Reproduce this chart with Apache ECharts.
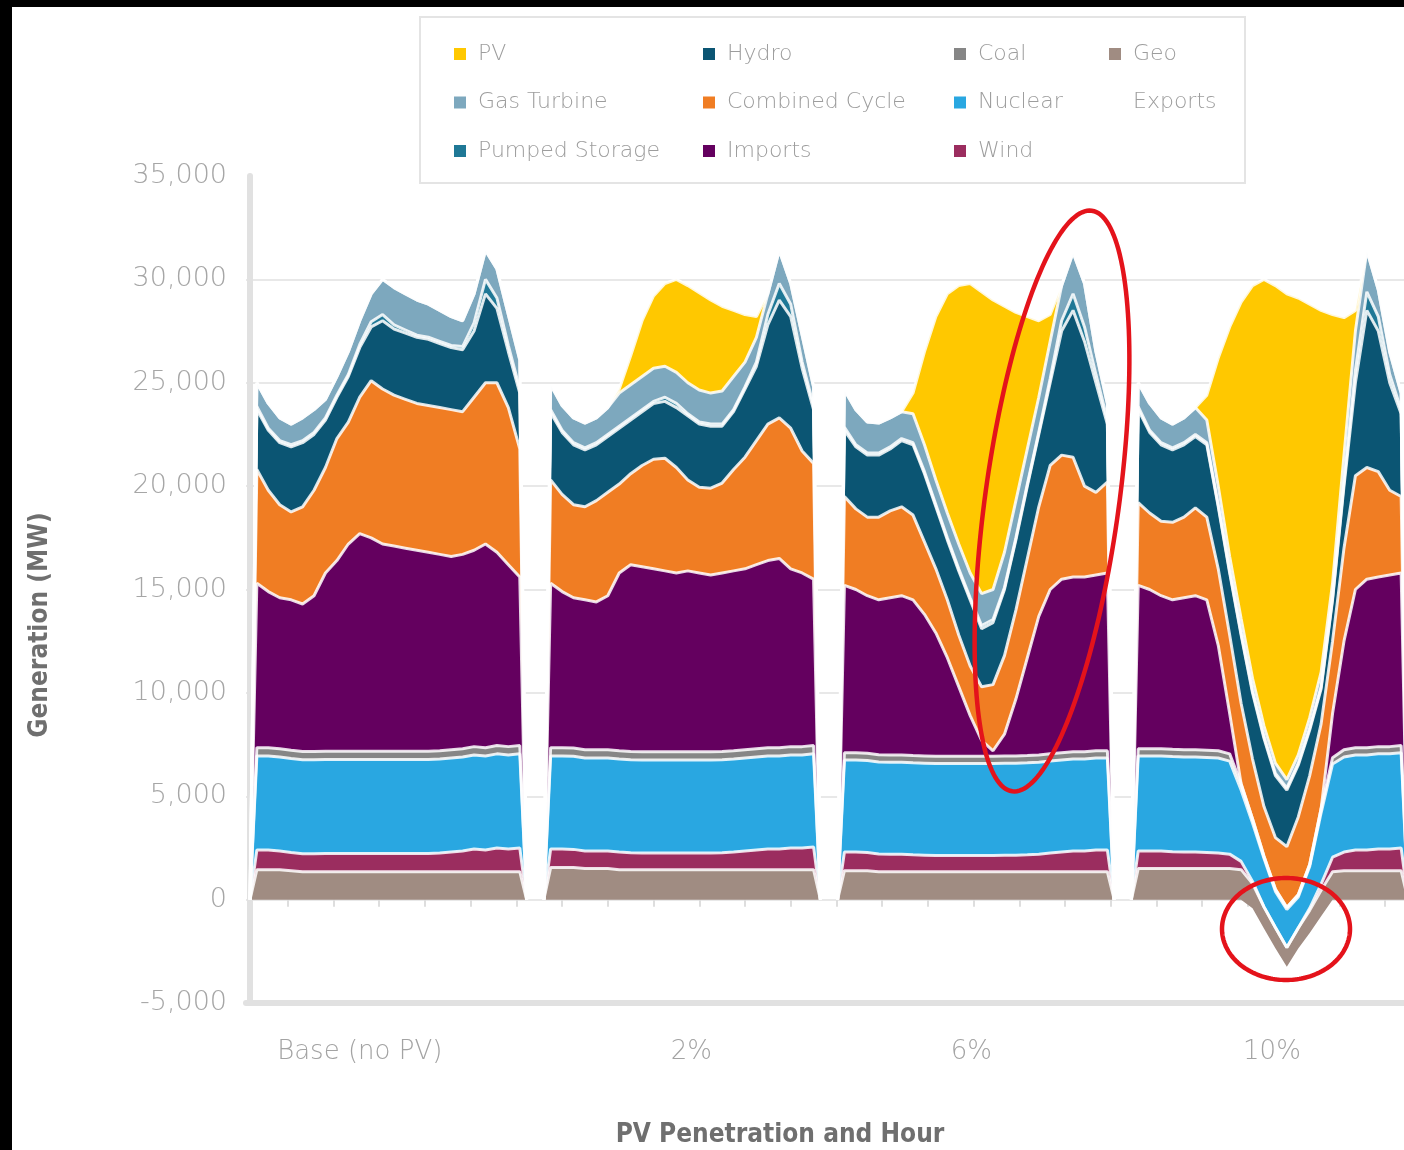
<!DOCTYPE html>
<html>
<head>
<meta charset="utf-8">
<title>Generation (MW) by PV Penetration and Hour</title>
<script src="https://cdn.jsdelivr.net/npm/echarts@6/dist/echarts.min.js"></script>
<style>
  html, body { margin: 0; padding: 0; background: #000; overflow: hidden; }
  #chart { position: absolute; left: 12px; top: 7px; width: 1392px; height: 1143px; background: #fff; }
</style>
</head>
<body>
<div id="chart"></div>
<script>
// ---- data: hourly generation (MW), one 24-hour row per PV penetration case ----
const panels = ['Base (no PV)', '2%', '6%', '10%'];
const hours = [0,1,2,3,4,5,6,7,8,9,10,11,12,13,14,15,16,17,18,19,20,21,22,23];

const exportsMW = [
  [0,0,0,0,0,0,0,0,0,0,0,0,0,0,0,0,0,0,0,0,0,0,0,0],
  [0,0,0,0,0,0,0,0,0,0,0,0,0,0,0,0,0,0,0,0,0,0,0,0],
  [0,0,0,0,0,0,0,0,0,0,0,0,0,0,0,0,0,0,0,0,0,0,0,0],
  [0,0,0,0,0,0,0,0,0,0,-420,-1400,-2350,-3250,-2370,-1620,-800,0,0,0,0,0,0,0]
];
const geo = [
  [1450,1450,1450,1400,1350,1350,1350,1350,1350,1350,1350,1350,1350,1350,1350,1350,1350,1350,1350,1350,1350,1350,1350,1350],
  [1550,1550,1550,1500,1500,1500,1450,1450,1450,1450,1450,1450,1450,1450,1450,1450,1450,1450,1450,1450,1450,1450,1450,1450],
  [1400,1400,1400,1350,1350,1350,1350,1350,1350,1350,1350,1350,1350,1350,1350,1350,1350,1350,1350,1350,1350,1350,1350,1350],
  [1500,1500,1500,1500,1500,1500,1500,1500,1500,1450,1200,1050,1000,930,1000,1100,1250,1350,1400,1400,1400,1400,1400,1400]
];
const wind = [
  [950,950,900,880,870,870,880,880,880,880,880,880,880,880,880,880,900,950,1000,1100,1050,1150,1100,1150],
  [900,900,880,850,850,850,850,820,800,800,800,800,800,800,800,820,850,900,950,1000,1000,1050,1050,1100],
  [900,900,880,860,850,850,820,800,780,780,780,780,780,780,800,800,820,850,900,950,1000,1000,1050,1050],
  [850,850,850,820,800,800,780,750,700,400,100,0,0,0,0,100,300,700,900,1000,1000,1050,1050,1100]
];
const nuclear = [
  [4550,4550,4550,4550,4550,4550,4550,4550,4550,4550,4550,4550,4550,4550,4550,4550,4550,4550,4550,4550,4550,4550,4550,4550],
  [4500,4500,4500,4500,4500,4500,4500,4500,4500,4500,4500,4500,4500,4500,4500,4500,4500,4500,4500,4500,4500,4500,4500,4500],
  [4450,4450,4450,4450,4450,4450,4450,4450,4450,4450,4450,4450,4450,4450,4450,4450,4450,4450,4450,4450,4450,4450,4450,4450],
  [4600,4600,4600,4600,4600,4600,4600,4600,4500,3450,2820,2350,1750,1840,1500,2020,3450,4510,4600,4600,4600,4600,4600,4600]
];
const coal = [
  [400,400,400,400,400,400,400,400,400,400,400,400,400,400,400,400,400,400,400,400,400,400,400,400],
  [400,400,400,400,400,400,400,400,400,400,400,400,400,400,400,400,400,400,400,400,400,400,400,400],
  [350,350,350,350,350,350,350,350,350,350,350,350,350,350,350,350,350,350,350,350,350,350,350,350],
  [350,350,350,350,350,350,350,350,350,300,200,100,100,100,100,100,200,300,350,350,350,350,350,350]
];
const imports = [
  [7950,7550,7300,7270,7130,7530,8620,9220,10020,10520,10320,10020,9920,9820,9720,9620,9500,9350,9400,9500,9850,9350,8800,8150],
  [7950,7550,7270,7250,7150,7450,8600,9030,8950,8850,8750,8650,8750,8650,8550,8630,8700,8750,8900,9050,9150,8600,8400,8050],
  [8100,7900,7620,7490,7600,7700,7530,6850,5970,4770,3370,1970,770,270,1050,2750,4730,6700,7950,8400,8450,8450,8500,8600],
  [7900,7700,7400,7230,7350,7450,7270,5100,1950,0,0,0,0,0,0,0,0,2140,5250,7650,8150,8200,8300,8350]
];
const combinedCycle = [
  [5500,4900,4500,4250,4700,5100,5100,5900,5900,6600,7600,7500,7300,7200,7100,7100,7100,7100,6900,7400,7800,8200,7600,6200],
  [5000,4700,4500,4500,4900,5000,4300,4400,4900,5300,5450,5100,4400,4150,4200,4350,4900,5400,6000,6600,6800,6800,5900,5600],
  [4300,3900,3800,4000,4200,4300,4100,3500,3100,2800,2500,2400,2600,3200,3800,4300,4800,5300,6000,6000,5800,4400,4000,4400],
  [4000,3700,3600,3750,3900,4250,4000,3700,3800,3900,2900,2400,2500,2940,3770,4300,4100,3500,4500,5500,5400,5100,4100,3700]
];
const hydro = [
  [2900,2900,3000,3150,3100,2700,2300,2000,2200,2400,2600,3300,3200,3200,3200,3200,3100,3000,3000,3200,4300,3600,2700,2700],
  [3250,3000,2900,2750,2700,2700,2700,2600,2600,2700,2750,2900,3100,3050,3000,2750,2800,3300,3600,4800,5700,5400,4000,2600],
  [3200,3000,3000,3000,3000,3200,3400,3300,3000,2900,3100,3200,2800,3000,3200,3400,3500,3500,4000,6000,7100,7000,5300,2800],
  [4500,3900,3700,3500,3500,3450,3500,3000,3000,3300,3200,3300,3000,2740,2500,2200,1700,2000,3000,4500,7600,6800,5200,4000]
];
const pumpedStorage = [
  [150,100,100,100,100,100,100,100,100,150,250,300,200,150,100,100,100,100,150,400,700,500,300,200],
  [150,100,100,100,100,100,100,100,100,100,200,200,100,100,100,100,100,100,200,500,800,600,300,200],
  [150,100,100,100,100,100,100,100,100,100,100,100,150,150,100,100,100,100,200,500,800,700,400,200],
  [150,100,100,100,100,100,100,100,100,100,100,100,100,100,100,100,100,100,200,600,900,700,400,200]
];
const gasTurbine = [
  [1150,1200,1100,1000,1100,1100,900,900,1100,1150,1350,1700,1800,1750,1700,1600,1500,1400,1250,1400,1400,1400,1500,1400],
  [1200,1200,1200,1200,1200,1300,1600,1600,1600,1600,1500,1500,1500,1550,1500,1600,1600,1200,1200,1000,1600,1000,1300,900],
  [1800,1700,1500,1450,1400,1300,1400,1300,1200,1200,1200,1200,1550,1450,1700,1800,1700,1700,1800,1700,2000,2100,1100,800],
  [1150,1300,1200,1150,1200,1300,1100,900,700,700,600,500,500,400,400,500,700,700,1300,1900,2000,1300,1100,800]
];
const pv = [
  [0,0,0,0,0,0,0,0,0,0,0,0,0,0,0,0,0,0,0,0,0,0,0,0],
  [0,0,0,0,0,0,200,1400,2700,3500,4000,4500,4700,4700,4500,4100,3200,2300,1000,0,0,0,0,0],
  [0,0,0,0,0,0,1000,4500,7900,10600,12500,14000,14600,14000,11900,9100,6400,3700,1300,0,0,0,0,0],
  [0,0,0,0,0,0,1200,6200,11100,15300,19000,21600,23100,23500,22100,20000,17500,13000,6650,1000,0,0,0,0]
];

const yTicks = { min: -5000, max: 35000, step: 5000 };

// ---- layout along the hour axis ----
// Series sit on a hidden time axis (one hour = 3 600 000 ms) so that stacking
// runs on MW only; two value axes in hour units carry the labels and ticks.
const HOUR = 3600 * 1000;
const PANEL_STEP = 25.7;        // hour slots from one panel start to the next
const EDGE = 0.6;               // slot between a panel's zero point and its first hour
const X_MIN = -0.35, X_MAX = 102;
const LABEL_AT = [9.6, 38.6, 63.1, 89.4];
const TICK_AT = [];
for (let t = 3.3; t < X_MAX; t += 4) TICK_AT.push(+t.toFixed(2));

// stack order, bottom to top
const layers = [
  { name: 'Exports',         values: exportsMW,     color: 'rgba(0,0,0,0)' },
  { name: 'Geo',             values: geo,           color: '#a08c82' },
  { name: 'Wind',            values: wind,          color: '#9b2d5f' },
  { name: 'Nuclear',         values: nuclear,       color: '#29a7e1' },
  { name: 'Coal',            values: coal,          color: '#868686' },
  { name: 'Imports',         values: imports,       color: '#64005f' },
  { name: 'Combined Cycle',  values: combinedCycle, color: '#f07d23' },
  { name: 'Hydro',           values: hydro,         color: '#0b5573' },
  { name: 'Pumped Storage',  values: pumpedStorage, color: '#1f7896' },
  { name: 'Gas Turbine',     values: gasTurbine,    color: '#7da8be' },
  { name: 'PV',              values: pv,            color: '#ffc800' }
];

// each panel is closed with a zero point at both ends and separated by a gap
function toPoints(values) {
  const pts = [];
  values.forEach((row, p) => {
    const x0 = p * PANEL_STEP;
    pts.push([x0 * HOUR, 0]);
    hours.forEach(h => pts.push([(x0 + EDGE + h) * HOUR, row[h]]));
    pts.push([(x0 + 2 * EDGE + 23) * HOUR, 0]);
    pts.push([(x0 + 2 * EDGE + 23.5) * HOUR, null]);
  });
  return pts;
}

const series = layers.map(l => ({
  name: l.name,
  type: 'line',
  xAxisIndex: 0,
  stack: 'mw',
  stackStrategy: 'all',
  data: toPoints(l.values),
  color: l.color,
  symbol: 'none',
  showSymbol: false,
  connectNulls: false,
  silent: true,
  emphasis: { disabled: true },
  lineStyle: l.name === 'Exports'
    ? { width: 0, opacity: 0 }
    : { color: 'rgba(255,255,255,0.85)', width: 3 },
  areaStyle: { color: l.color, opacity: 1 },
  itemStyle: { color: l.color }
}));

const FONT = "'DejaVu Sans', 'Noto Sans', sans-serif";
const TITLE_FONT = "'DejaVu Sans Condensed', 'DejaVu Sans', sans-serif";

const legendColumns = [
  ['PV', 'Gas Turbine', 'Pumped Storage'],
  ['Hydro', 'Combined Cycle', 'Imports'],
  ['Coal', 'Nuclear', 'Wind'],
  ['Geo', 'Exports']
];
const legendLeft = [437, 686, 937, 1092];
const legends = legendColumns.map((names, i) => ({
  data: names,
  orient: 'vertical',
  left: legendLeft[i],
  top: 29,
  icon: 'rect',
  itemWidth: 12,
  itemHeight: 12,
  itemGap: 22.5,
  selectedMode: false,
  itemStyle: { borderWidth: 0 },
  lineStyle: { width: 0 },
  textStyle: { fontFamily: FONT, fontWeight: 300, fontSize: 22, lineHeight: 26, color: '#9d9d9d', padding: [0, 0, 0, 7] },
  z: 10
}));

// annotation rings drawn as closed polygons
function ring(cx, cy, a, b, tiltDeg) {
  const t = tiltDeg * Math.PI / 180;
  const pts = [];
  for (let i = 0; i < 180; i++) {
    const u = i / 180 * Math.PI * 2;
    const px = b * Math.cos(u), py = a * Math.sin(u);
    pts.push([cx + px * Math.cos(t) + py * Math.sin(t), cy + px * Math.sin(t) - py * Math.cos(t)]);
  }
  return pts;
}

const chart = echarts.init(document.getElementById('chart'), null, { renderer: 'canvas' });
chart.setOption({
  animation: false,
  backgroundColor: '#fff',
  grid: { left: 234, right: -12, top: 169, bottom: 147, containLabel: false, outerBoundsMode: 'none' },
  legend: legends,
  xAxis: [
    {
      type: 'time', min: X_MIN * HOUR, max: X_MAX * HOUR, position: 'bottom', show: false,
      axisLine: { show: false, onZero: false },
      axisTick: { show: false }, axisLabel: { show: false }, splitLine: { show: false }
    },
    {
      type: 'value', min: X_MIN, max: X_MAX, position: 'bottom',
      axisLine: { show: true, onZero: false, lineStyle: { color: '#e1e1e1', width: 6 } },
      axisTick: { show: false },
      splitLine: { show: false },
      axisLabel: {
        customValues: LABEL_AT,
        margin: 36,
        fontFamily: FONT, fontWeight: 300, fontSize: 26, color: '#a3a3a3',
        formatter: v => {
          const i = LABEL_AT.findIndex(a => Math.abs(a - v) < 1e-6);
          return i >= 0 ? panels[i] : '';
        }
      }
    },
    {
      type: 'value', min: X_MIN, max: X_MAX, position: 'top',
      axisLine: { show: false, onZero: true },
      axisTick: { show: true, inside: true, customValues: TICK_AT, length: 7, lineStyle: { color: '#dedede', width: 2 } },
      axisLabel: { show: false },
      splitLine: { show: false }
    }
  ],
  yAxis: {
    type: 'value', min: yTicks.min, max: yTicks.max, interval: yTicks.step,
    axisLine: { show: true, lineStyle: { color: '#e1e1e1', width: 6 } },
    axisTick: { show: false },
    splitLine: { show: true, showMaxLine: false, lineStyle: { color: '#e8e8e8', width: 2 } },
    axisLabel: {
      margin: 19, fontFamily: FONT, fontWeight: 300, fontSize: 27, color: '#a6a6a6',
      formatter: v => v.toLocaleString('en-US')
    }
  },
  graphic: [
    { type: 'rect', z: 5, shape: { x: 408, y: 10, width: 825, height: 166 },
      style: { fill: '#fff', stroke: '#e4e4e4', lineWidth: 2 } },
    { type: 'text', z: 5, x: 28, y: 618, rotation: Math.PI / 2,
      style: { text: 'Generation (MW)', font: 'bold 26px ' + TITLE_FONT, fill: '#6f6f6f',
               align: 'center', verticalAlign: 'middle', textAlign: 'center', textVerticalAlign: 'middle' } },
    { type: 'text', z: 5, x: 768, y: 1128,
      style: { text: 'PV Penetration and Hour', font: 'bold 26px ' + TITLE_FONT, fill: '#6f6f6f',
               align: 'center', verticalAlign: 'middle', textAlign: 'center', textVerticalAlign: 'middle' } },
    { type: 'polygon', z: 20, shape: { points: ring(1040, 494, 293, 67, 7.8) },
      style: { fill: 'none', stroke: '#e4131b', lineWidth: 4.5 } },
    { type: 'polygon', z: 20, shape: { points: ring(1274, 922, 51, 64, 0) },
      style: { fill: 'none', stroke: '#e4131b', lineWidth: 4.5 } }
  ],
  series
});
</script>
</body>
</html>
